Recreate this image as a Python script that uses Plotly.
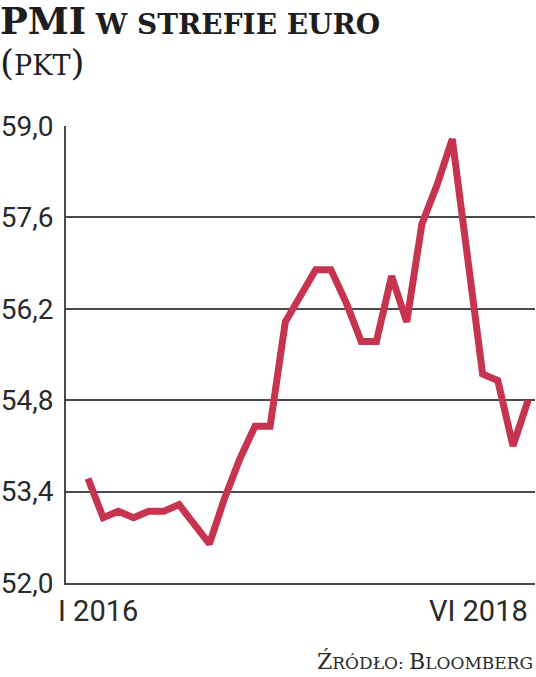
import plotly.graph_objects as go

months = [
    "2016-01", "2016-02", "2016-03", "2016-04", "2016-05", "2016-06",
    "2016-07", "2016-08", "2016-09", "2016-10", "2016-11", "2016-12",
    "2017-01", "2017-02", "2017-03", "2017-04", "2017-05", "2017-06",
    "2017-07", "2017-08", "2017-09", "2017-10", "2017-11", "2017-12",
    "2018-01", "2018-02", "2018-03", "2018-04", "2018-05", "2018-06",
]
pmi = [
    53.6, 53.0, 53.1, 53.0, 53.1, 53.1,
    53.2, 52.9, 52.6, 53.3, 53.9, 54.4,
    54.4, 56.0, 56.4, 56.8, 56.8, 56.3,
    55.7, 55.7, 56.7, 56.0, 57.5, 58.1,
    58.8, 57.0, 55.2, 55.1, 54.1, 54.8,
]
y_ticks = [52.0, 53.4, 54.8, 56.2, 57.6, 59.0]
y_tick_labels = ["52,0", "53,4", "54,8", "56,2", "57,6", "59,0"]
x_labels = ["I 2016", "VI 2018"]

LINE = "#C7344F"
TXT = "#2a2a2a"
GRID = "#4a4a4a"
NARROW = "Roboto, sans-serif"
SERIF = "DejaVu Serif, Liberation Serif, serif"

fig = go.Figure()
fig.add_trace(go.Scatter(
    x=months, y=pmi, mode="lines",
    line=dict(color=LINE, width=7, shape="linear"),
    hoverinfo="skip",
))

fig.update_layout(
    width=536, height=677,
    margin=dict(l=61, r=1, t=126, b=94),
    paper_bgcolor="white", plot_bgcolor="white",
    showlegend=False,
    xaxis=dict(
        type="category",
        range=[-1.45, 29.45],
        showgrid=False, zeroline=False,
        showticklabels=False, ticks="",
        showline=True, linecolor=GRID, linewidth=2,
        fixedrange=True,
    ),
    yaxis=dict(
        range=[52.0, 59.0],
        tickvals=y_ticks, ticktext=y_tick_labels,
        showgrid=True, gridcolor=GRID, gridwidth=1.6,
        zeroline=False,
        showline=True, linecolor=GRID, linewidth=2,
        ticks="", ticklabelstandoff=5,
        tickfont=dict(family=NARROW, size=28, color=TXT),
        fixedrange=True,
    ),
    annotations=[
        dict(
            xref="x", yref="paper", x=months[0], y=0,
            xanchor="left", yanchor="top", xshift=-32, yshift=-9,
            showarrow=False, text=x_labels[0],
            font=dict(family=NARROW, size=29, color=TXT),
        ),
        dict(
            xref="x", yref="paper", x=months[-1], y=0,
            xanchor="right", yanchor="top", xshift=2, yshift=-9,
            showarrow=False, text=x_labels[1],
            font=dict(family=NARROW, size=29, color=TXT),
        ),
        dict(
            xref="paper", yref="paper", x=-0.145, y=1.0,
            xanchor="left", yanchor="bottom", yshift=81, showarrow=False,
            text="<b><span style='font-size:37px'>PMI</span> W STREFIE EURO</b>",
            font=dict(family=SERIF, size=28, color="#1e1e1e"),
        ),
        dict(
            xref="paper", yref="paper", x=-0.145, y=1.0,
            xanchor="left", yanchor="bottom", yshift=41, showarrow=False,
            text="<span style='font-size:36px'>(</span>PKT<span style='font-size:36px'>)</span>",
            font=dict(family=SERIF, size=27, color="#1e1e1e"),
        ),
        dict(
            xref="paper", yref="paper", x=0.999, y=0,
            xanchor="right", yanchor="top", yshift=-63, showarrow=False,
            text="<span style='font-size:22px'>Ź</span>RÓDŁO: <span style='font-size:22px'>B</span>LOOMBERG",
            font=dict(family=SERIF, size=17, color=TXT),
        ),
    ],
)

fig.write_html(
    "out.html",
    config={"displayModeBar": False},
    post_script="document.body.style.margin='0';document.body.style.overflow='hidden';",
)
